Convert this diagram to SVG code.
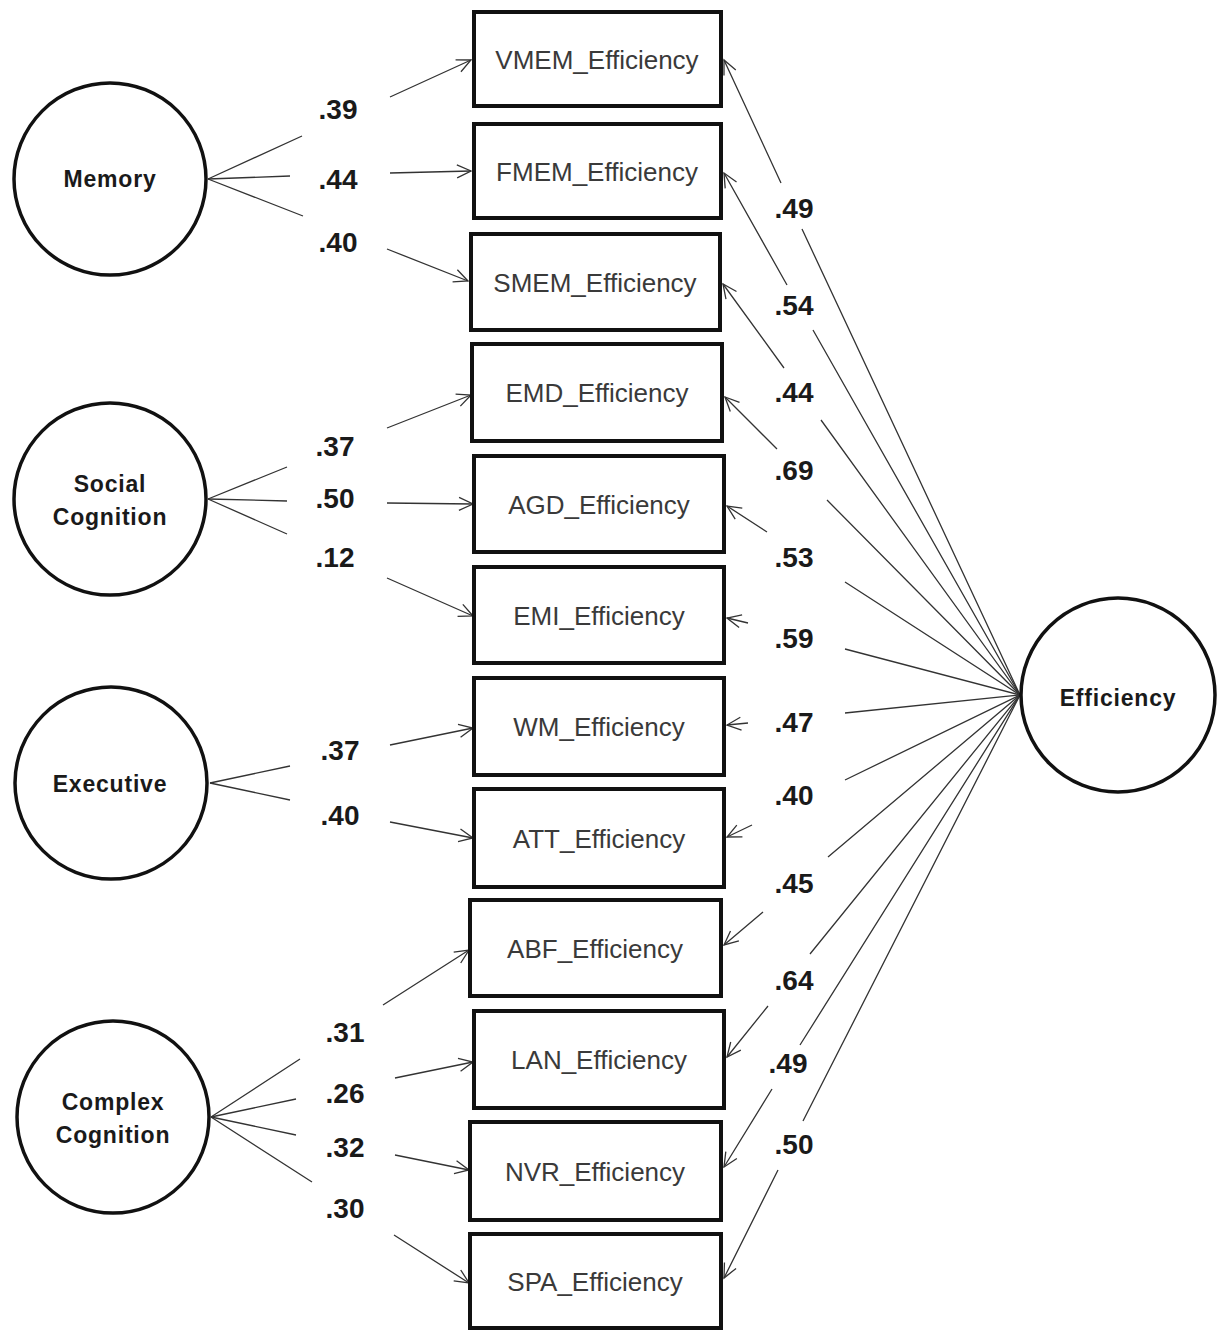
<svg xmlns="http://www.w3.org/2000/svg" width="1226" height="1332" viewBox="0 0 1226 1332">
<style>
.bg{fill:#fff}
.lat{fill:#fff;stroke:#111;stroke-width:3.5}
.obs{fill:#fff;stroke:#111;stroke-width:4}
.ltxt{font-family:"Liberation Sans",Arial,sans-serif;font-weight:bold;font-size:23px;letter-spacing:0.8px;fill:#1a1a1a;text-anchor:middle}
.otxt{font-family:"Liberation Sans",Arial,sans-serif;font-size:26px;fill:#3a3a3a;text-anchor:middle}
.num{font-family:"Liberation Sans",Arial,sans-serif;font-weight:bold;font-size:28px;fill:#1a1a1a;text-anchor:middle}
.c{fill:none;stroke:#333;stroke-width:1.3;marker-end:url(#arr)}
</style>
<defs>
<marker id="arr" markerUnits="userSpaceOnUse" markerWidth="18" markerHeight="16" refX="15" refY="8" orient="auto">
<path d="M1,1.5 L15,8 L1,14.5" fill="none" stroke="#333" stroke-width="1.3"/>
</marker>
</defs>
<rect class="bg" x="0" y="0" width="1226" height="1332"/>

<g id="connectors">
<!-- Memory -->
<path class="c" d="M208,179 L302,136 M390,97 L471,60"/>
<path class="c" d="M208,179 L290,176 M390,173 L471,171"/>
<path class="c" d="M208,179 L303,216 M387,249 L468,281"/>
<!-- Social Cognition -->
<path class="c" d="M208,499 L287,467 M387,428 L471,395"/>
<path class="c" d="M208,499 L287,501 M387,503 L473,504"/>
<path class="c" d="M208,499 L287,534 M387,578 L473,616"/>
<!-- Executive -->
<path class="c" d="M210,783 L290,766 M390,745 L473,728"/>
<path class="c" d="M210,783 L290,800 M390,822 L473,838"/>
<!-- Complex Cognition -->
<path class="c" d="M211,1117 L300,1059 M383,1005 L469,950"/>
<path class="c" d="M211,1117 L296,1099 M395,1078 L473,1062"/>
<path class="c" d="M211,1117 L296,1135 M395,1155 L469,1170"/>
<path class="c" d="M211,1117 L312,1182 M394,1235 L469,1283"/>
<!-- Efficiency -->
<path class="c" d="M1020,695 L802,229 M781,183 L724,60"/>
<path class="c" d="M1020,695 L813,330 M787,285 L724,173"/>
<path class="c" d="M1020,695 L821,420 M784,368 L723,284"/>
<path class="c" d="M1020,695 L827,500 M777,449 L725,397"/>
<path class="c" d="M1020,695 L845,582 M767,532 L727,506"/>
<path class="c" d="M1020,695 L845,649 M748,623 L727,618"/>
<path class="c" d="M1020,695 L845,713 M748,723 L727,725"/>
<path class="c" d="M1020,695 L845,780 M752,825 L727,837"/>
<path class="c" d="M1020,695 L828,857 M763,912 L724,945"/>
<path class="c" d="M1020,695 L810,954 M768,1006 L727,1057"/>
<path class="c" d="M1020,695 L800,1045 M772,1089 L724,1167"/>
<path class="c" d="M1020,695 L803,1121 M778,1170 L724,1278"/>
</g>

<g id="loadings">
<text class="num" x="338" y="119">.39</text>
<text class="num" x="338" y="189">.44</text>
<text class="num" x="338" y="252">.40</text>
<text class="num" x="335" y="456">.37</text>
<text class="num" x="335" y="508">.50</text>
<text class="num" x="335" y="567">.12</text>
<text class="num" x="340" y="760">.37</text>
<text class="num" x="340" y="825">.40</text>
<text class="num" x="345" y="1042">.31</text>
<text class="num" x="345" y="1103">.26</text>
<text class="num" x="345" y="1157">.32</text>
<text class="num" x="345" y="1218">.30</text>
<text class="num" x="794" y="218">.49</text>
<text class="num" x="794" y="315">.54</text>
<text class="num" x="794" y="402">.44</text>
<text class="num" x="794" y="480">.69</text>
<text class="num" x="794" y="567">.53</text>
<text class="num" x="794" y="648">.59</text>
<text class="num" x="794" y="732">.47</text>
<text class="num" x="794" y="805">.40</text>
<text class="num" x="794" y="893">.45</text>
<text class="num" x="794" y="990">.64</text>
<text class="num" x="788" y="1073">.49</text>
<text class="num" x="794" y="1154">.50</text>
</g>

<g id="memory"><circle class="lat" cx="110" cy="179" r="96"/><text class="ltxt" x="110" y="187">Memory</text></g>
<g id="social_cognition"><circle class="lat" cx="110" cy="499" r="96"/><text class="ltxt" x="110" y="492">Social</text><text class="ltxt" x="110" y="525">Cognition</text></g>
<g id="executive"><circle class="lat" cx="111" cy="783" r="96"/><text class="ltxt" x="110" y="792">Executive</text></g>
<g id="complex_cognition"><circle class="lat" cx="113" cy="1117" r="96"/><text class="ltxt" x="113" y="1110">Complex</text><text class="ltxt" x="113" y="1143">Cognition</text></g>
<g id="efficiency"><circle class="lat" cx="1118" cy="695" r="97"/><text class="ltxt" x="1118" y="706">Efficiency</text></g>

<g id="vmem"><rect class="obs" x="474" y="12" width="247" height="94"/><text class="otxt" x="597" y="69">VMEM_Efficiency</text></g>
<g id="fmem"><rect class="obs" x="474" y="124" width="247" height="94"/><text class="otxt" x="597" y="181">FMEM_Efficiency</text></g>
<g id="smem"><rect class="obs" x="471" y="234" width="249" height="96"/><text class="otxt" x="595" y="292">SMEM_Efficiency</text></g>
<g id="emd"><rect class="obs" x="472" y="344" width="250" height="97"/><text class="otxt" x="597" y="402">EMD_Efficiency</text></g>
<g id="agd"><rect class="obs" x="474" y="456" width="250" height="96"/><text class="otxt" x="599" y="514">AGD_Efficiency</text></g>
<g id="emi"><rect class="obs" x="474" y="567" width="250" height="96"/><text class="otxt" x="599" y="625">EMI_Efficiency</text></g>
<g id="wm"><rect class="obs" x="474" y="678" width="250" height="97"/><text class="otxt" x="599" y="736">WM_Efficiency</text></g>
<g id="att"><rect class="obs" x="474" y="789" width="250" height="98"/><text class="otxt" x="599" y="848">ATT_Efficiency</text></g>
<g id="abf"><rect class="obs" x="470" y="900" width="251" height="96"/><text class="otxt" x="595" y="958">ABF_Efficiency</text></g>
<g id="lan"><rect class="obs" x="474" y="1011" width="250" height="97"/><text class="otxt" x="599" y="1069">LAN_Efficiency</text></g>
<g id="nvr"><rect class="obs" x="470" y="1122" width="251" height="98"/><text class="otxt" x="595" y="1181">NVR_Efficiency</text></g>
<g id="spa"><rect class="obs" x="470" y="1234" width="251" height="94"/><text class="otxt" x="595" y="1291">SPA_Efficiency</text></g>
</svg>
